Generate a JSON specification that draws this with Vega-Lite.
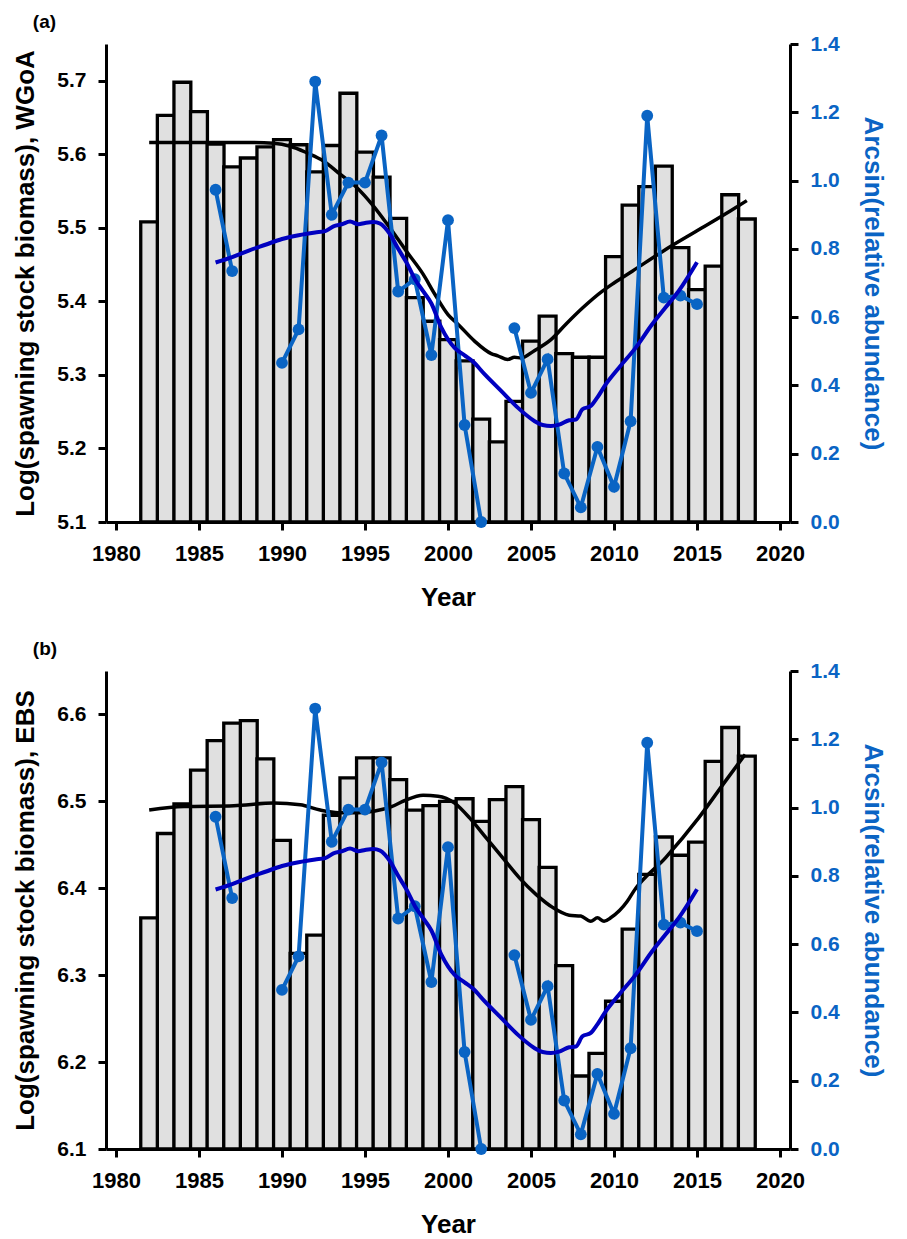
{
  "$schema": "https://vega.github.io/schema/vega-lite/v6.json",
  "padding": {"left": 12, "top": 13, "right": 2, "bottom": 0},
  "config": {
    "font": "Liberation Sans",
    "view": {"stroke": null},
    "axis": {
      "grid": false,
      "domainColor": "black",
      "domainWidth": 3,
      "tickColor": "black",
      "tickWidth": 3,
      "tickSize": 8,
      "labelFont": "Liberation Sans",
      "labelFontSize": 21,
      "labelFontWeight": "bold",
      "labelColor": "black",
      "labelPadding": 12,
      "titleFont": "Liberation Sans",
      "titleFontSize": 26,
      "titleFontWeight": "bold",
      "titleColor": "black"
    },
    "title": {"font": "Liberation Sans", "fontWeight": "bold", "fontSize": 19, "color": "black"}
  },
  "datasets": {
    "wgoa": [
      {"year": 1982, "lsb": 5.508}, {"year": 1983, "lsb": 5.653}, {"year": 1984, "lsb": 5.698},
      {"year": 1985, "lsb": 5.658}, {"year": 1986, "lsb": 5.614}, {"year": 1987, "lsb": 5.583},
      {"year": 1988, "lsb": 5.595}, {"year": 1989, "lsb": 5.610}, {"year": 1990, "lsb": 5.620},
      {"year": 1991, "lsb": 5.613}, {"year": 1992, "lsb": 5.576}, {"year": 1993, "lsb": 5.612},
      {"year": 1994, "lsb": 5.683}, {"year": 1995, "lsb": 5.603}, {"year": 1996, "lsb": 5.569},
      {"year": 1997, "lsb": 5.513}, {"year": 1998, "lsb": 5.405}, {"year": 1999, "lsb": 5.373},
      {"year": 2000, "lsb": 5.348}, {"year": 2001, "lsb": 5.319}, {"year": 2002, "lsb": 5.240},
      {"year": 2003, "lsb": 5.209}, {"year": 2004, "lsb": 5.264}, {"year": 2005, "lsb": 5.346},
      {"year": 2006, "lsb": 5.380}, {"year": 2007, "lsb": 5.329}, {"year": 2008, "lsb": 5.324},
      {"year": 2009, "lsb": 5.324}, {"year": 2010, "lsb": 5.461}, {"year": 2011, "lsb": 5.531},
      {"year": 2012, "lsb": 5.556}, {"year": 2013, "lsb": 5.584}, {"year": 2014, "lsb": 5.473},
      {"year": 2015, "lsb": 5.416}, {"year": 2016, "lsb": 5.448}, {"year": 2017, "lsb": 5.545},
      {"year": 2018, "lsb": 5.512}
    ],
    "ebs": [
      {"year": 1982, "lsb": 6.366}, {"year": 1983, "lsb": 6.463}, {"year": 1984, "lsb": 6.497},
      {"year": 1985, "lsb": 6.536}, {"year": 1986, "lsb": 6.570}, {"year": 1987, "lsb": 6.590},
      {"year": 1988, "lsb": 6.593}, {"year": 1989, "lsb": 6.549}, {"year": 1990, "lsb": 6.455},
      {"year": 1991, "lsb": 6.325}, {"year": 1992, "lsb": 6.346}, {"year": 1993, "lsb": 6.484},
      {"year": 1994, "lsb": 6.527}, {"year": 1995, "lsb": 6.550}, {"year": 1996, "lsb": 6.550},
      {"year": 1997, "lsb": 6.525}, {"year": 1998, "lsb": 6.490}, {"year": 1999, "lsb": 6.495},
      {"year": 2000, "lsb": 6.500}, {"year": 2001, "lsb": 6.503}, {"year": 2002, "lsb": 6.477},
      {"year": 2003, "lsb": 6.502}, {"year": 2004, "lsb": 6.517}, {"year": 2005, "lsb": 6.479},
      {"year": 2006, "lsb": 6.424}, {"year": 2007, "lsb": 6.311}, {"year": 2008, "lsb": 6.184},
      {"year": 2009, "lsb": 6.210}, {"year": 2010, "lsb": 6.270}, {"year": 2011, "lsb": 6.353},
      {"year": 2012, "lsb": 6.416}, {"year": 2013, "lsb": 6.459}, {"year": 2014, "lsb": 6.438},
      {"year": 2015, "lsb": 6.453}, {"year": 2016, "lsb": 6.546}, {"year": 2017, "lsb": 6.585},
      {"year": 2018, "lsb": 6.552}
    ],
    "wgoaFit": [
      {"year": 1982.0, "fit": 5.616}, {"year": 1984.0, "fit": 5.616}, {"year": 1986.0, "fit": 5.616},
      {"year": 1988.0, "fit": 5.616}, {"year": 1989.5, "fit": 5.615}, {"year": 1990.5, "fit": 5.611},
      {"year": 1991.5, "fit": 5.602}, {"year": 1992.5, "fit": 5.591}, {"year": 1993.5, "fit": 5.573},
      {"year": 1994.5, "fit": 5.555}, {"year": 1995.5, "fit": 5.530}, {"year": 1996.5, "fit": 5.500},
      {"year": 1997.5, "fit": 5.468}, {"year": 1998.5, "fit": 5.437}, {"year": 1999.2, "fit": 5.410},
      {"year": 2000.0, "fit": 5.382}, {"year": 2000.6, "fit": 5.369}, {"year": 2001.6, "fit": 5.346},
      {"year": 2002.6, "fit": 5.329}, {"year": 2003.0, "fit": 5.326}, {"year": 2003.6, "fit": 5.321},
      {"year": 2004.0, "fit": 5.324}, {"year": 2004.4, "fit": 5.323}, {"year": 2005.2, "fit": 5.333},
      {"year": 2006.2, "fit": 5.348}, {"year": 2007.1, "fit": 5.369}, {"year": 2008.1, "fit": 5.391},
      {"year": 2009.3, "fit": 5.414}, {"year": 2010.0, "fit": 5.425}, {"year": 2011.1, "fit": 5.441},
      {"year": 2013.0, "fit": 5.469}, {"year": 2015.0, "fit": 5.496}, {"year": 2017.0, "fit": 5.523},
      {"year": 2018.0, "fit": 5.537}
    ],
    "ebsFit": [
      {"year": 1982.0, "fit": 6.490}, {"year": 1984.1, "fit": 6.494}, {"year": 1987.1, "fit": 6.495},
      {"year": 1989.5, "fit": 6.498}, {"year": 1991.1, "fit": 6.496}, {"year": 1992.3, "fit": 6.490},
      {"year": 1993.4, "fit": 6.487}, {"year": 1994.6, "fit": 6.487}, {"year": 1995.6, "fit": 6.489},
      {"year": 1996.6, "fit": 6.494}, {"year": 1997.4, "fit": 6.501}, {"year": 1998.5, "fit": 6.507},
      {"year": 1999.4, "fit": 6.506}, {"year": 2000.4, "fit": 6.498}, {"year": 2001.3, "fit": 6.481},
      {"year": 2002.3, "fit": 6.458}, {"year": 2003.3, "fit": 6.435}, {"year": 2004.3, "fit": 6.412},
      {"year": 2005.3, "fit": 6.393}, {"year": 2006.3, "fit": 6.378}, {"year": 2007.3, "fit": 6.369},
      {"year": 2008.0, "fit": 6.368}, {"year": 2008.6, "fit": 6.362}, {"year": 2009.0, "fit": 6.366},
      {"year": 2009.4, "fit": 6.362}, {"year": 2009.8, "fit": 6.366}, {"year": 2010.8, "fit": 6.385},
      {"year": 2011.2, "fit": 6.397}, {"year": 2013.1, "fit": 6.435}, {"year": 2015.1, "fit": 6.481},
      {"year": 2016.7, "fit": 6.523}, {"year": 2017.9, "fit": 6.554}
    ],
    "abund": [
      {"year": 1986, "asr": 0.973}, {"year": 1987, "asr": 0.735}, {"year": 1988, "asr": null},
      {"year": 1989, "asr": null}, {"year": 1990, "asr": 0.466}, {"year": 1991, "asr": 0.564},
      {"year": 1992, "asr": 1.290}, {"year": 1993, "asr": 0.900}, {"year": 1994, "asr": 0.994},
      {"year": 1995, "asr": 0.994}, {"year": 1996, "asr": 1.132}, {"year": 1997, "asr": 0.675},
      {"year": 1998, "asr": 0.711}, {"year": 1999, "asr": 0.489}, {"year": 2000, "asr": 0.884},
      {"year": 2001, "asr": 0.284}, {"year": 2002, "asr": 0.000}, {"year": 2003, "asr": null},
      {"year": 2004, "asr": 0.568}, {"year": 2005, "asr": 0.378}, {"year": 2006, "asr": 0.477},
      {"year": 2007, "asr": 0.142}, {"year": 2008, "asr": 0.043}, {"year": 2009, "asr": 0.220},
      {"year": 2010, "asr": 0.103}, {"year": 2011, "asr": 0.295}, {"year": 2012, "asr": 1.190},
      {"year": 2013, "asr": 0.657}, {"year": 2014, "asr": 0.663}, {"year": 2015, "asr": 0.638}
    ],
    "abundFit": [
      {"year": 1986.0, "sm": 0.760}, {"year": 1987.0, "sm": 0.776}, {"year": 1988.0, "sm": 0.795},
      {"year": 1989.0, "sm": 0.812}, {"year": 1990.0, "sm": 0.829}, {"year": 1991.0, "sm": 0.840},
      {"year": 1992.0, "sm": 0.848}, {"year": 1992.6, "sm": 0.852}, {"year": 1993.1, "sm": 0.866},
      {"year": 1993.6, "sm": 0.872}, {"year": 1994.1, "sm": 0.880}, {"year": 1994.6, "sm": 0.872},
      {"year": 1995.0, "sm": 0.876}, {"year": 1995.5, "sm": 0.879}, {"year": 1995.9, "sm": 0.874},
      {"year": 1996.5, "sm": 0.843}, {"year": 1997.0, "sm": 0.800}, {"year": 1997.5, "sm": 0.760},
      {"year": 1998.0, "sm": 0.712}, {"year": 1998.5, "sm": 0.676}, {"year": 1999.0, "sm": 0.640},
      {"year": 1999.6, "sm": 0.569}, {"year": 2000.0, "sm": 0.535}, {"year": 2000.4, "sm": 0.510},
      {"year": 2001.0, "sm": 0.488}, {"year": 2001.5, "sm": 0.470}, {"year": 2002.2, "sm": 0.433},
      {"year": 2003.2, "sm": 0.384}, {"year": 2004.2, "sm": 0.335}, {"year": 2005.2, "sm": 0.296},
      {"year": 2005.7, "sm": 0.284}, {"year": 2006.2, "sm": 0.281}, {"year": 2006.7, "sm": 0.285},
      {"year": 2007.3, "sm": 0.298}, {"year": 2007.7, "sm": 0.300}, {"year": 2008.1, "sm": 0.330},
      {"year": 2008.6, "sm": 0.340}, {"year": 2009.0, "sm": 0.365}, {"year": 2009.5, "sm": 0.403},
      {"year": 2010.3, "sm": 0.452}, {"year": 2011.3, "sm": 0.510}, {"year": 2012.3, "sm": 0.579},
      {"year": 2013.1, "sm": 0.628}, {"year": 2013.9, "sm": 0.677}, {"year": 2015.0, "sm": 0.761}
    ]
  },
  "spacing": 30,
  "vconcat": [
    {
      "width": 684,
      "height": 478,
      "title": {"text": "(a)", "anchor": "start", "frame": "bounds", "dx": 20, "offset": 1},
      "layer": [
        {
          "layer": [
            {
              "data": {"name": "wgoa"},
              "mark": {"type": "bar", "width": 16.87, "fill": "#e0e0e0", "stroke": "black", "strokeWidth": 3.3},
              "encoding": {
                "x": {"field": "year", "type": "quantitative",
                      "scale": {"domain": [1979.7, 2020.3], "nice": false, "zero": false},
                      "axis": {"values": [1980, 1985, 1990, 1995, 2000, 2005, 2010, 2015, 2020], "format": "d", "labelFontSize": 22, "labelPadding": 13, "titlePadding": 20}, "title": "Year"},
                "y": {"field": "lsb", "type": "quantitative",
                      "scale": {"domain": [5.1, 5.75], "nice": false, "zero": false},
                      "axis": {"values": [5.1, 5.2, 5.3, 5.4, 5.5, 5.6, 5.7], "format": ".1f", "titlePadding": 18}, "title": "Log(spawning stock biomass), WGoA"},
                "y2": {"datum": 5.1}
              }
            },
            {
              "data": {"name": "wgoaFit"},
              "mark": {"type": "line", "color": "black", "strokeWidth": 3.5, "interpolate": "monotone"},
              "encoding": {
                "x": {"field": "year", "type": "quantitative", "title": "Year"},
                "y": {"field": "fit", "type": "quantitative", "title": "Log(spawning stock biomass), WGoA"}
              }
            }
          ]
        },
        {
          "layer": [
            {
              "data": {"name": "abund"},
              "mark": {"type": "line", "color": "#0a64c4", "strokeWidth": 4, "invalid": "break-paths-filter-domains"},
              "encoding": {
                "x": {"field": "year", "type": "quantitative", "title": "Year"},
                "y": {"field": "asr", "type": "quantitative",
                      "scale": {"domain": [0, 1.4], "nice": false},
                      "axis": {"orient": "right", "values": [0, 0.2, 0.4, 0.6, 0.8, 1.0, 1.2, 1.4], "format": ".1f", "labelColor": "#0a64c4", "titleColor": "#0a64c4", "titlePadding": 20},
                      "title": "Arcsin(relative abundance)"}
              }
            },
            {
              "data": {"name": "abund"},
              "mark": {"type": "point", "filled": true, "size": 140, "color": "#0a64c4", "opacity": 1},
              "encoding": {
                "x": {"field": "year", "type": "quantitative", "title": "Year"},
                "y": {"field": "asr", "type": "quantitative", "title": "Arcsin(relative abundance)"}
              }
            },
            {
              "data": {"name": "abundFit"},
              "mark": {"type": "line", "color": "#0000c0", "strokeWidth": 4, "interpolate": "monotone"},
              "encoding": {
                "x": {"field": "year", "type": "quantitative", "title": "Year"},
                "y": {"field": "sm", "type": "quantitative", "title": "Arcsin(relative abundance)"}
              }
            }
          ]
        }
      ],
      "resolve": {"scale": {"y": "independent"}}
    },
    {
      "width": 684,
      "height": 478,
      "title": {"text": "(b)", "anchor": "start", "frame": "bounds", "dx": 20, "offset": 1},
      "layer": [
        {
          "layer": [
            {
              "data": {"name": "ebs"},
              "mark": {"type": "bar", "width": 16.87, "fill": "#e0e0e0", "stroke": "black", "strokeWidth": 3.3},
              "encoding": {
                "x": {"field": "year", "type": "quantitative",
                      "scale": {"domain": [1979.7, 2020.3], "nice": false, "zero": false},
                      "axis": {"values": [1980, 1985, 1990, 1995, 2000, 2005, 2010, 2015, 2020], "format": "d", "labelFontSize": 22, "labelPadding": 13, "titlePadding": 20}, "title": "Year"},
                "y": {"field": "lsb", "type": "quantitative",
                      "scale": {"domain": [6.1, 6.65], "nice": false, "zero": false},
                      "axis": {"values": [6.1, 6.2, 6.3, 6.4, 6.5, 6.6], "format": ".1f", "titlePadding": 18}, "title": "Log(spawning stock biomass), EBS"},
                "y2": {"datum": 6.1}
              }
            },
            {
              "data": {"name": "ebsFit"},
              "mark": {"type": "line", "color": "black", "strokeWidth": 3.5, "interpolate": "monotone"},
              "encoding": {
                "x": {"field": "year", "type": "quantitative", "title": "Year"},
                "y": {"field": "fit", "type": "quantitative", "title": "Log(spawning stock biomass), EBS"}
              }
            }
          ]
        },
        {
          "layer": [
            {
              "data": {"name": "abund"},
              "mark": {"type": "line", "color": "#0a64c4", "strokeWidth": 4, "invalid": "break-paths-filter-domains"},
              "encoding": {
                "x": {"field": "year", "type": "quantitative", "title": "Year"},
                "y": {"field": "asr", "type": "quantitative",
                      "scale": {"domain": [0, 1.4], "nice": false},
                      "axis": {"orient": "right", "values": [0, 0.2, 0.4, 0.6, 0.8, 1.0, 1.2, 1.4], "format": ".1f", "labelColor": "#0a64c4", "titleColor": "#0a64c4", "titlePadding": 20},
                      "title": "Arcsin(relative abundance)"}
              }
            },
            {
              "data": {"name": "abund"},
              "mark": {"type": "point", "filled": true, "size": 140, "color": "#0a64c4", "opacity": 1},
              "encoding": {
                "x": {"field": "year", "type": "quantitative", "title": "Year"},
                "y": {"field": "asr", "type": "quantitative", "title": "Arcsin(relative abundance)"}
              }
            },
            {
              "data": {"name": "abundFit"},
              "mark": {"type": "line", "color": "#0000c0", "strokeWidth": 4, "interpolate": "monotone"},
              "encoding": {
                "x": {"field": "year", "type": "quantitative", "title": "Year"},
                "y": {"field": "sm", "type": "quantitative", "title": "Arcsin(relative abundance)"}
              }
            }
          ]
        }
      ],
      "resolve": {"scale": {"y": "independent"}}
    }
  ]
}
